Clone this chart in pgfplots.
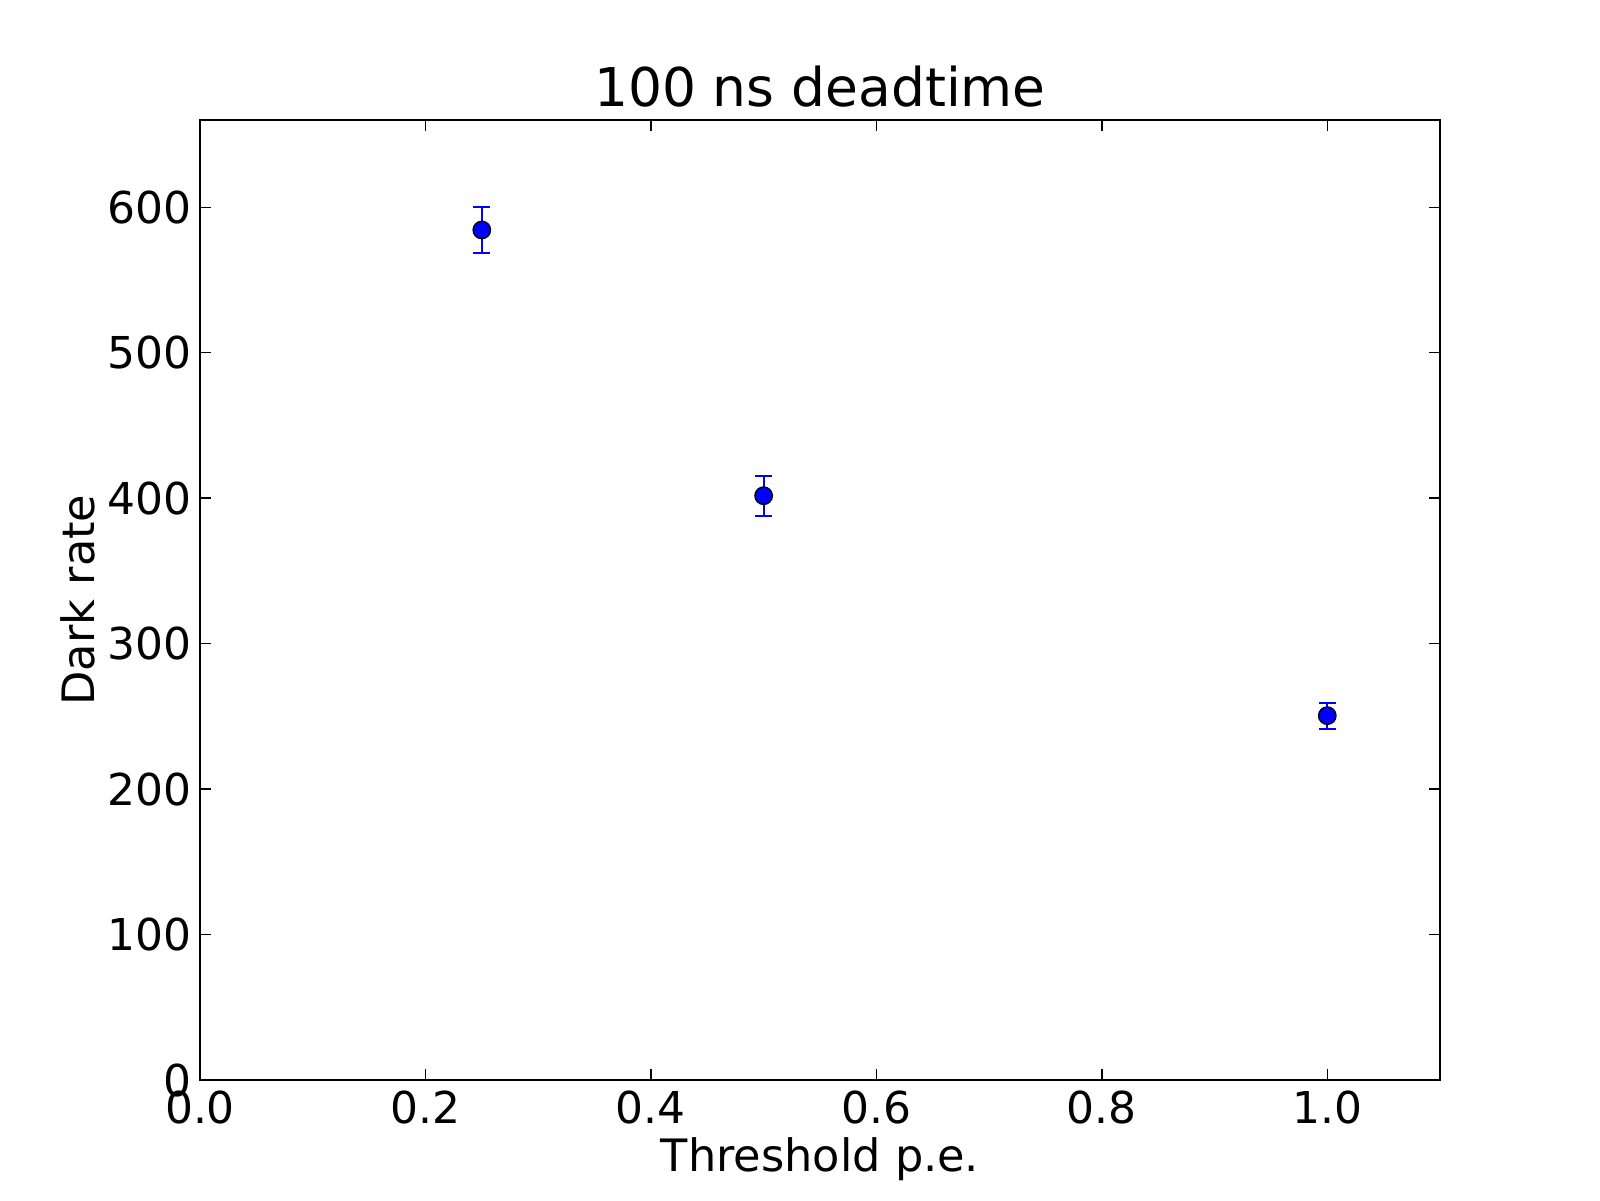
\documentclass[border=0pt]{standalone}
\usepackage{fontspec}
\setmainfont{DejaVu Sans}
\usepackage{pgfplots}
\pgfplotsset{compat=1.18}

\begin{document}
\begin{tikzpicture}
% page 16cm x 12cm, 1px of the reference = 0.1mm
\path[use as bounding box] (-2cm,-1.2cm) rectangle (14cm,10.8cm);
\begin{axis}[
    scale only axis,
    width=12.4cm, height=9.6cm,
    at={(0,0)}, anchor=south west,
    xmin=0, xmax=1.1,
    ymin=0, ymax=660,
    xtick={0,0.2,0.4,0.6,0.8,1.0},
    ytick={0,100,200,300,400,500,600},
    /pgf/number format/assume math mode=true,
    tick align=inside,
    major tick length=1.1mm,
    tick style={black, line width=0.4pt},
    axis line style={line width=0.8pt},
    font=\fontsize{12.7}{15}\selectfont,
    every tick label/.append style={font=\fontsize{12.5}{15}\selectfont, inner sep=0pt},
    xticklabel style={/pgf/number format/fixed, /pgf/number format/fixed zerofill,
        /pgf/number format/precision=1, anchor=north, yshift=-1.0mm},
    yticklabel style={anchor=east, xshift=-0.8mm},
    title={100 ns deadtime},
    every axis title/.style={at={(axis description cs:0.5,1.0146)}, anchor=base,
        font=\fontsize{15.2}{18}\selectfont, inner sep=0pt},
    xlabel={Threshold p.e.},
    ylabel={Dark rate},
    every axis x label/.style={at={(axis description cs:0.5,-0.0958)}, anchor=base, inner sep=0pt},
    every axis y label/.style={at={(axis description cs:-0.0847,0.5)}, rotate=90, anchor=base, inner sep=0pt},
]
\addplot[
    only marks,
    mark=*,
    mark size=0.87mm,
    mark options={fill=blue, draw=black, line width=0.4pt},
    error bars/.cd,
        y dir=both, y explicit,
        error bar style={blue, line width=0.6pt},
        error mark options={rotate=90, mark size=0.85mm, line width=0.6pt, blue},
]
coordinates {
    (0.25,584.4) +- (0,16)
    (0.5,401.7) +- (0,13.7)
    (1.0,250.5) +- (0,9)
};
\end{axis}
\end{tikzpicture}
\end{document}
